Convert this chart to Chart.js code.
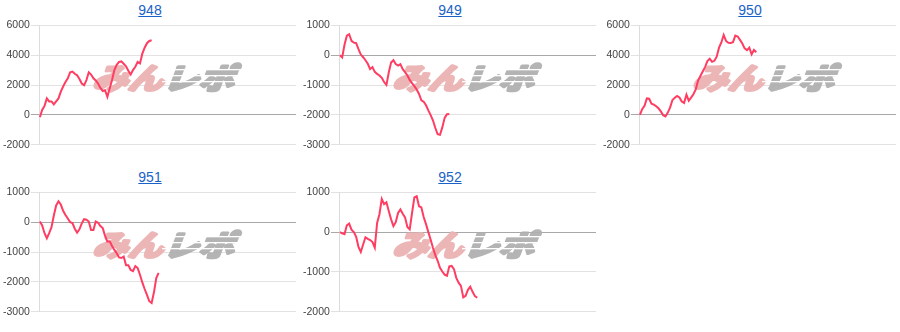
<!DOCTYPE html>
<html><head><meta charset="utf-8">
<script src="https://cdn.jsdelivr.net/npm/chart.js@4"></script>
<style>
body{margin:0;background:#fff;width:900px;height:332px;overflow:hidden;font-family:"Liberation Sans",Arial,sans-serif;}
.cell{position:absolute;width:300px;height:165px;}
.ttl{position:absolute;left:0;top:0;width:300px;height:20px;line-height:20px;text-align:center;font-size:14px;}
.ttl a{color:#1a62c6;text-decoration:underline;}
.cv{position:absolute;left:0;top:18px;width:300px;height:134px;}
</style></head>
<body>
<div id="root"></div>
<script>
// ---- data ----
const titles = ["948","949","950","951","952"];
const s948 = [-150,330,600,1100,900,900,700,900,1100,1550,1900,2200,2450,2850,2900,2750,2650,2400,2100,1980,2330,2850,2700,2450,2300,2100,1800,1600,1650,1200,1780,2330,3000,3350,3550,3580,3420,3250,2950,2700,3000,3220,3550,3450,4100,4500,4800,4950,5000];
const s949 = [0,-80,350,650,700,480,420,400,200,20,-70,-170,-290,-470,-400,-560,-630,-680,-760,-900,-1000,-580,-250,-170,-300,-350,-300,-470,-570,-680,-830,-940,-1040,-1150,-1300,-1510,-1560,-1680,-1850,-2010,-2190,-2440,-2650,-2670,-2420,-2100,-1980,-1970];
const s950 = [0,380,600,1100,1080,750,680,580,440,230,-20,-110,150,500,1000,1150,1260,1170,900,800,1350,950,1150,1380,1700,2300,2600,2900,3200,3600,3760,3550,3620,3900,4500,4850,5350,4950,4830,4820,4870,5310,5250,5020,4780,4450,4340,4500,4060,4350,4200];
const s951 = [20,-110,-370,-540,-370,-170,220,560,700,590,380,240,120,0,-30,-220,-350,-240,-40,100,80,20,-260,-260,20,-20,-130,-200,-460,-650,-640,-800,-930,-1040,-1180,-1200,-1150,-1440,-1440,-1600,-1640,-1470,-1540,-1760,-2020,-2240,-2440,-2650,-2710,-2350,-1870,-1700];
const s952 = [0,-30,-50,170,215,60,0,-120,-370,-500,-310,-130,-170,-200,-250,-390,230,450,830,700,750,530,320,150,250,480,570,460,370,130,70,480,870,900,650,620,380,200,0,-190,-400,-580,-720,-900,-990,-1070,-1100,-860,-850,-930,-1150,-1270,-1350,-1640,-1600,-1450,-1370,-1500,-1610,-1650];
const series = [s948,s949,s950,s951,s952];
const yMin = [-2000,-3000,-2000,-3000,-2000];
const yMax = [6000,1000,6000,1000,1000];
const yStep = [2000,1000,2000,1000,1000];
const xCount = 111;
const xLabels = Array.from({length:xCount},(_,i)=>String(i+1));

// ---- watermark plugin ----
function makeMark(){
  const W=170,H=36;
  const c=document.createElement('canvas'); c.width=W; c.height=H;
  const g=c.getContext('2d');
  g.font='bold 29px "Noto Sans CJK JP"';
  g.textBaseline='alphabetic';
  g.lineJoin='round';
  g.lineWidth=3.2;
  g.setTransform(1.22,0,-0.38,1,4,31);
  g.fillStyle=g.strokeStyle='#ebb3b3';
  g.fillText('みん',0,0); g.strokeText('みん',0,0);
  g.fillStyle=g.strokeStyle='#b0b0b0';
  g.fillText('レポ',58,0); g.strokeText('レポ',58,0);
  g.setTransform(1,0,0,1,0,0);
  g.globalCompositeOperation='destination-out';
  for (const y of [11,17,23]) g.fillRect(74,y,96,1.3);
  return c;
}
const watermark = {
  id:'wm',
  beforeDatasetsDraw(chart){
    const {ctx, chartArea:a} = chart;
    const c=makeMark();
    const cx=(a.left+a.right)/2, cy=(a.top+a.bottom)/2-9;
    ctx.save();
    ctx.globalAlpha=0.95;
    ctx.drawImage(c, Math.round(cx-80), Math.round(cy-c.height/2));
    ctx.restore();
  }
};

// ---- build ----
const root=document.getElementById('root');
titles.forEach((t,i)=>{
  const col=i%3, row=Math.floor(i/3);
  const cell=document.createElement('div');
  cell.className='cell';
  cell.style.left=(col*300)+'px';
  cell.style.top=(row*167)+'px';
  cell.innerHTML='<div class="ttl"><a href="#">'+t+'</a></div><div class="cv"><canvas></canvas></div>';
  root.appendChild(cell);
  const cv=cell.querySelector('canvas');
  new Chart(cv,{
    type:'line',
    data:{labels:xLabels,datasets:[{data:series[i],borderColor:'#ff3d62',borderWidth:2,pointRadius:0,tension:0,fill:false}]},
    options:{
      responsive:true,maintainAspectRatio:false,animation:false,
      layout:{padding:{left:2,right:4,top:0,bottom:0}},
      plugins:{legend:{display:false},tooltip:{enabled:false},title:{display:false}},
      scales:{
        x:{display:false},
        y:{min:yMin[i],max:yMax[i],
           ticks:{stepSize:yStep[i],color:'#444',padding:1,font:{family:'"Liberation Sans", Arial',size:10.5},callback:v=>String(v)},
           grid:{color:c=>c.tick&&c.tick.value===0?'#a8a8a8':'#e2e2e2',tickLength:9,lineWidth:1},
           border:{display:true,color:'#dcdcdc'}}
      }
    },
    plugins:[watermark]
  });
});
</script>
</body></html>
